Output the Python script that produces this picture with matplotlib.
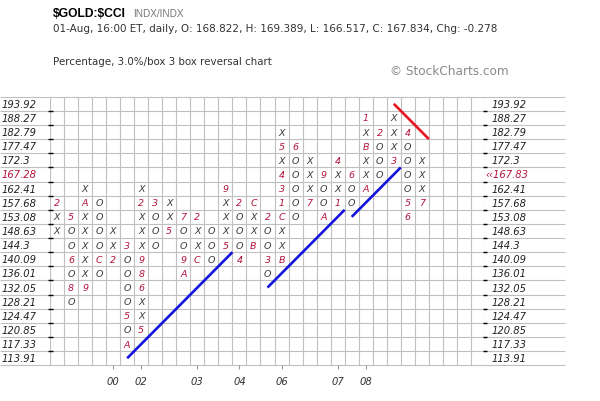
import numpy as np
import matplotlib
matplotlib.use("Agg")
import matplotlib.pyplot as plt

# box levels, bottom to top
levels = [113.91, 117.33, 120.85, 124.47, 128.21, 132.05, 136.01, 140.09, 144.3,
          148.63, 153.08, 157.68, 162.41, 167.28, 172.3, 177.47, 182.79, 188.27, 193.92]
last_price = 167.83

# columns: lowest box index + boxes bottom->top (1-9, A-C are month markers)
col_start = [9, 4, 5, 6, 7, 1, 2, 8, 9, 6, 7, 7, 8, 7, 8, 6, 7, 10, 11, 10, 11, 11, 12, 13, 14, 10, 11]
col_boxes = ["XX2", "O8O6OO5", "9XXXXXAX", "OCOOOO", "2XX", "AO5OOOO3",
             "5XX689XXX2X", "OOO3", "5XX", "A9OO7", "CXX2", "OOO", "5XXX9",
             "4OOO2", "BXXC", "O3OO2", "BXXC134X5X", "OOOOO6", "7XXX", "AOO9",
             "1XX4", "OO6", "AXXBX1", "OOO2", "3XXX", "65OOOO4", "7XXX"]

year_labels = ["00", "02", "03", "04", "06", "07", "08"]
year_cols = [4, 6, 10, 13, 16, 20, 22]

# 45 degree trend lines: start column, start box, length (boxes), direction
trend_col = [5, 15, 21, 24]
trend_box = [0, 5, 10, 18]
trend_len = [7.5, 5.5, 3.5, 2.5]
trend_dir = [1, 1, 1, -1]

n_cols = 31
W, H = 600, 402

mark_col = '#3a3a3a'
month_col = '#b4143c'
grid_col = '#c0c0c0'
txt_col = '#333333'

fig = plt.figure(figsize=(W / 100, H / 100), dpi=100)

def fx(x):
    return x / W

def fy(y):
    return 1 - y / H

# header
fig.text(fx(53), fy(17), r"\$GOLD:\$CCI", fontsize=8.7, fontweight='bold',
         family='Liberation Sans', color='black')
fig.text(fx(133), fy(17), "INDX/INDX", fontsize=7.2, family='Liberation Sans', color='#777777')
fig.text(fx(53), fy(32),
         "01-Aug, 16:00 ET, daily, O: 168.822, H: 169.389, L: 166.517, C: 167.834, Chg: -0.278",
         fontsize=7.45, color=txt_col)
fig.text(fx(53), fy(65), "Percentage, 3.0%/box 3 box reversal chart", fontsize=7.35, color=txt_col)
fig.text(fx(390), fy(75), "\u00a9 StockCharts.com", fontsize=8.7, color='#8a8a8a')

ax = fig.add_axes([fx(50), fy(366.3), 435 / W, (366.3 - 97.7) / H])
nl = len(levels)
ax.set_xlim(-0.5, n_cols - 0.5)
ax.set_ylim(-0.5, nl - 0.5)
for s in ax.spines.values():
    s.set_visible(False)

# grid
ax.vlines(np.arange(n_cols + 1) - 0.5, -0.5, nl - 0.5, color=grid_col, lw=0.8, zorder=0)
ax.hlines(np.arange(nl + 1) - 0.5, -50 / 435, 515 / 435, color=grid_col, lw=0.8,
          transform=ax.get_yaxis_transform(), clip_on=False, zorder=0)
inner = np.arange(nl - 1) + 0.5
ax.hlines(inner, -2 / 435, 3 / 435, color='black', lw=1,
          transform=ax.get_yaxis_transform(), clip_on=False)
ax.hlines(inner, 433 / 435, 437 / 435, color='black', lw=1,
          transform=ax.get_yaxis_transform(), clip_on=False)

# price labels
cur = int(np.searchsorted(levels, last_price, side='right') - 1)
for i, v in enumerate(levels):
    c = month_col if i == cur else '#222222'
    ax.text(-48.3 / 435, i, f"{v:g}", transform=ax.get_yaxis_transform(), ha='left',
            va='center', fontsize=7.2, style='italic', color=c, clip_on=False)
    if i == cur:
        ax.text(435.5 / 435, i, "\u2039\u2039" + f"{last_price:g}", transform=ax.get_yaxis_transform(),
                ha='left', va='center', fontsize=7.2, style='italic', color=month_col, clip_on=False)
    else:
        ax.text(441.5 / 435, i, f"{v:g}", transform=ax.get_yaxis_transform(), ha='left',
                va='center', fontsize=7.2, style='italic', color='#222222', clip_on=False)

# X / O boxes
for c, (start, boxes) in enumerate(zip(col_start, col_boxes)):
    for k, ch in enumerate(boxes):
        color = mark_col if ch in 'XO' else month_col
        ax.text(c, start + k, ch, ha='center', va='center', fontsize=6.8,
                style='italic', color=color)

# trend lines
for c0, b0, n, d in zip(trend_col, trend_box, trend_len, trend_dir):
    color = '#1414dc' if d > 0 else '#e8141e'
    ax.plot([c0, c0 + n], [b0, b0 + d * n], color=color, lw=1.9, solid_capstyle='butt')

# year ticks
ax.set_xticks(year_cols, year_labels)
ax.set_yticks([])
ax.tick_params(axis='x', length=3, width=0.8, color='#999999', pad=5,
               labelsize=7.2, labelcolor=txt_col)
for t in ax.get_xticklabels():
    t.set_style('italic')

fig.savefig("out.png", dpi=100)
